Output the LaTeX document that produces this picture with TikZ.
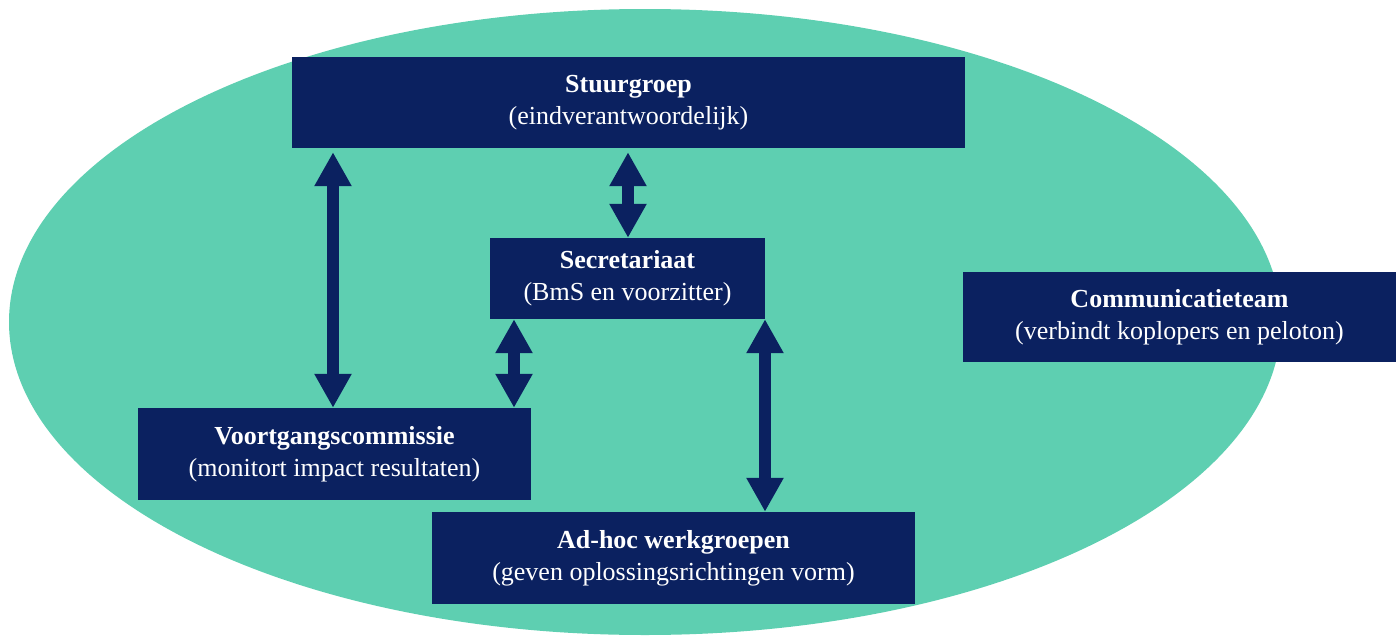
\documentclass[tikz,border=0pt]{standalone}
\usepackage{fontspec}
\setmainfont{Liberation Serif}
\usetikzlibrary{arrows.meta}
\definecolor{navy}{HTML}{0B2160}
\definecolor{mint}{HTML}{5ECFB1}
\tikzset{
  unitbox/.style={fill=navy, text=white, inner sep=0pt, align=center,
    font=\fontsize{26}{32}\selectfont},
  dbl/.style={draw=navy, line width=12pt,
    {Triangle[width=35pt,length=34pt]}-{Triangle[width=35pt,length=34pt]}}
}
\newcommand{\unit}[6]{% name, x1, y1, x2, y2, text
  \node[unitbox, minimum width=#4pt-#2pt, minimum height=#5pt-#3pt]
    (#1) at ({(#2+#4)/2}, {(#3+#5)/2}) {#6};}
\begin{document}
\begin{tikzpicture}[x=1pt, y=-1pt]
  \useasboundingbox (0,0) rectangle (1400,637);
  % background ellipse
  \fill[mint] (645,322) ellipse [x radius=636, y radius=313];
  % organisational units
  \unit{stuur}{292}{57}{965}{148}{\textbf{Stuurgroep}\\(eindverantwoordelijk)}
  \unit{secr}{490}{238}{765}{319}{\textbf{Secretariaat}\\(BmS en voorzitter)}
  \unit{voort}{138}{408}{531}{500}{\textbf{Voortgangscommissie}\\(monitort impact resultaten)}
  \unit{adhoc}{432}{512}{915}{604}{\textbf{Ad-hoc werkgroepen}\\(geven oplossingsrichtingen vorm)}
  \unit{comm}{963}{272}{1396}{362}{\textbf{Communicatieteam}\\(verbindt koplopers en peloton)}
  % two-way links
  \draw[dbl] ([yshift=-4pt]stuur.south -| 333,0) -- (voort.north -| 333,0);
  \draw[dbl] ([yshift=-4pt]stuur.south -| 628,0) -- (secr.north -| 628,0);
  \draw[dbl] (secr.south -| 514,0) -- (voort.north -| 514,0);
  \draw[dbl] (secr.south -| 765,0) -- (adhoc.north -| 765,0);
\end{tikzpicture}
\end{document}
